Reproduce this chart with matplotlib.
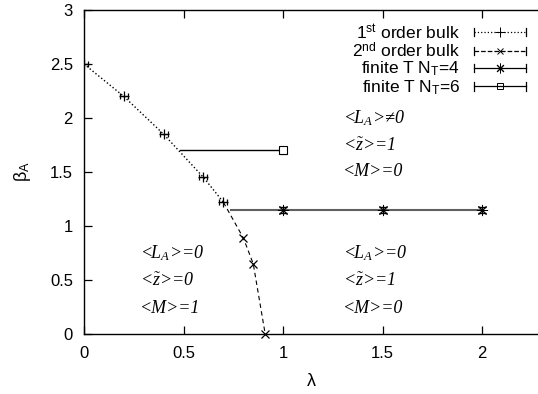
import numpy as np
import matplotlib
matplotlib.use('Agg')
import matplotlib.pyplot as plt
from matplotlib.lines import Line2D
from matplotlib.legend_handler import HandlerBase

plt.rcParams['font.family'] = ['Liberation Sans', 'DejaVu Sans']
plt.rcParams['mathtext.fontset'] = 'custom'
plt.rcParams['mathtext.rm'] = 'Liberation Serif:italic'
plt.rcParams['mathtext.it'] = 'Liberation Serif:italic'
plt.rcParams['mathtext.sf'] = 'Liberation Sans'

# data
lam_1st = [0.0, 0.2, 0.4, 0.6, 0.7]
beta_1st = [2.5, 2.2, 1.85, 1.45, 1.22]
lam_2nd = [0.7, 0.8, 0.85, 0.91]
beta_2nd = [1.22, 0.89, 0.65, 0.0]
lam_nt4 = [1.0, 1.5, 2.0]
beta_nt4 = [1.15, 1.15, 1.15]
nt4_start = 0.74
lam_nt6 = [1.0]
beta_nt6 = [1.7]
nt6_start = 0.48
err_1st = 0.02
err_nt = 0.03

legend_labels = ['1$^{\\mathsf{st}}$ order bulk', '2$^{\\mathsf{nd}}$ order bulk',
                 'finite T N$_{\\mathsf{T}}$=4', 'finite T N$_{\\mathsf{T}}$=6']

asterisk = (8, 2, 0)


class CapHandler(HandlerBase):
    def create_artists(self, legend, orig_handle, xdescent, ydescent, width, height, fontsize, trans):
        y = height / 2 - ydescent
        x0, x1 = -xdescent, -xdescent + width
        c = orig_handle.get_color()
        line = Line2D([x0, x1], [y, y], linestyle=orig_handle.get_linestyle(), color=c, lw=0.9)
        mark = Line2D([(x0 + x1) / 2], [y], linestyle='none', marker=orig_handle.get_marker(),
                      markersize=orig_handle.get_markersize(), color=c, mfc='none', mew=0.7)
        h = 3
        cap = Line2D([x0, x0, np.nan, x1, x1], [y - h, y + h, np.nan, y - h, y + h], color=c, lw=0.9)
        for a in (line, mark, cap):
            a.set_transform(trans)
        return [line, mark, cap]


fig = plt.figure(figsize=(5.38, 3.94), dpi=100)
ax = fig.add_axes([84 / 538, 60 / 394, 1 - 84 / 538, 324 / 394])

# first order bulk
ax.plot(lam_1st, beta_1st, ':', color='black', lw=1)
ax.errorbar(lam_1st, beta_1st, xerr=err_1st, fmt='+', color='black', ms=7, mew=0.9,
            elinewidth=0.9, capsize=2)

# second order bulk
ax.plot(lam_2nd, beta_2nd, linestyle=(0, (4, 3)), color='black', lw=0.8)
ax.plot(lam_2nd[1:], beta_2nd[1:], 'x', color='black', ms=6, mew=0.9, clip_on=False)

# finite T lines
ax.plot([nt4_start] + lam_nt4, [beta_nt4[0]] + beta_nt4, '-', color='#606060', lw=1.5)
ax.errorbar(lam_nt4, beta_nt4, yerr=err_nt, fmt='none', ecolor='black', elinewidth=0.8, capsize=3)
ax.plot(lam_nt4, beta_nt4, linestyle='none', marker=asterisk, color='black', ms=8, mew=0.7)

ax.plot([nt6_start] + lam_nt6, [beta_nt6[0]] + beta_nt6, '-', color='black', lw=1)
ax.errorbar(lam_nt6, beta_nt6, yerr=err_nt, fmt='s', color='black', mfc='white', ms=6, mew=0.8,
            elinewidth=0.8, capsize=3)

# phase labels
tkw = dict(fontfamily='Liberation Serif', fontstyle='italic', fontsize=13, va='center', ha='left')
ax.text(1.3, 2.0, '<L$_A$>\u22600', **tkw)
ax.text(1.3, 1.74, '<$\\tilde{z}$>=1', **tkw)
ax.text(1.3, 1.5, '<M>=0', **tkw)
ax.text(0.28, 0.75, '<L$_A$>=0', **tkw)
ax.text(0.28, 0.49, '<$\\tilde{z}$>=0', **tkw)
ax.text(0.28, 0.24, '<M>=1', **tkw)
ax.text(1.3, 0.75, '<L$_A$>=0', **tkw)
ax.text(1.3, 0.49, '<$\\tilde{z}$>=1', **tkw)
ax.text(1.3, 0.24, '<M>=0', **tkw)

ax.set_xlim(0, 2.28)
ax.set_ylim(0, 3)
ax.set_xticks([0, 0.5, 1, 1.5, 2])
ax.set_xticklabels(['0', '0.5', '1', '1.5', '2'])
ax.set_yticks([0, 0.5, 1, 1.5, 2, 2.5, 3])
ax.set_yticklabels(['0', '0.5', '1', '1.5', '2', '2.5', '3'])
ax.tick_params(direction='in', top=True, right=False, length=6, width=0.9, labelsize=12)
ax.tick_params(axis='x', pad=9)
ax.tick_params(axis='y', pad=8)
ax.spines['right'].set_visible(False)
for s in ('left', 'bottom', 'top'):
    ax.spines[s].set_linewidth(1)

ax.set_xlabel('\u03bb', fontsize=13, labelpad=8)
ax.set_ylabel('\u03b2$_{\\mathsf{A}}$', fontsize=13, labelpad=12)

proxies = [Line2D([], [], linestyle=':', marker='+', color='black', ms=7),
           Line2D([], [], linestyle=(0, (4, 3)), marker='x', color='black', ms=5),
           Line2D([], [], linestyle='-', marker=asterisk, color='black', ms=7),
           Line2D([], [], linestyle='-', marker='s', color='black', ms=5)]
ax.legend(proxies, legend_labels, handler_map={Line2D: CapHandler()}, loc='upper right',
          bbox_to_anchor=(526 / 538, 1 - 22 / 394), bbox_transform=fig.transFigure,
          frameon=False, markerfirst=False, fontsize=12.5, handlelength=3.0, handletextpad=0.8,
          labelspacing=0.0, borderpad=0, borderaxespad=0)

fig.savefig('out.png', dpi=100)
